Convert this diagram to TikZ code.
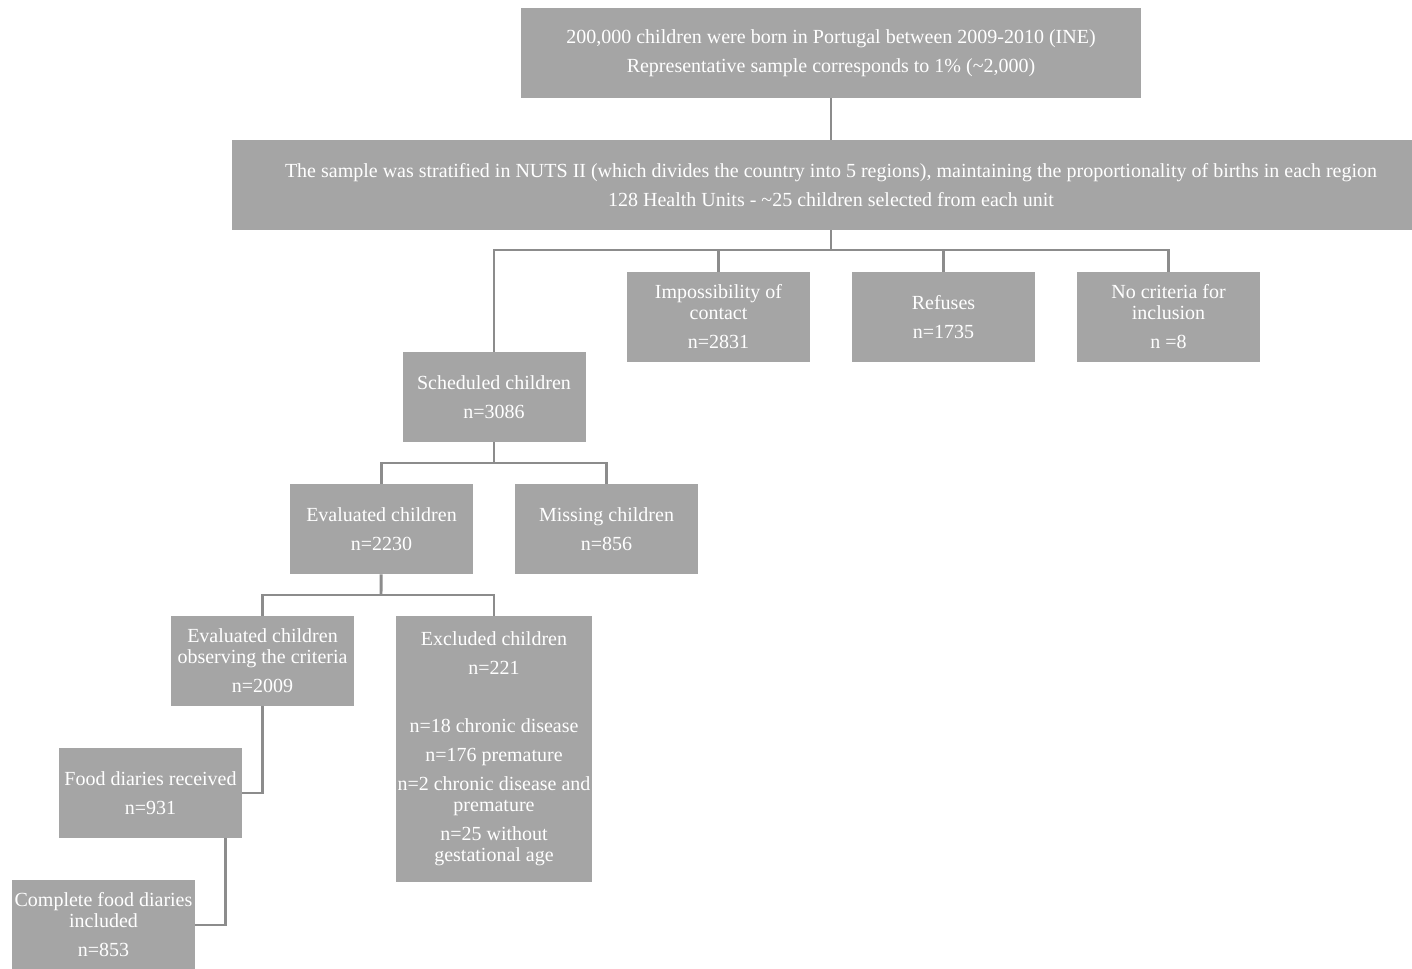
\documentclass[tikz,border=0pt]{standalone}
\usepackage{fontspec}
\setmainfont{Liberation Serif}
\definecolor{boxgray}{HTML}{A5A5A5}
\definecolor{linegray}{HTML}{8C8C8C}

\begin{document}
\begin{tikzpicture}[x=0.75pt, y=-0.75pt,
    box/.style={fill=boxgray, text=white, align=center, inner sep=0pt,
        minimum width=137.25pt, minimum height=67.5pt,
        font=\fontsize{15}{15.75}\selectfont},
    link/.style={draw=linegray, line width=2.2pt}]
    \clip (0,0) rectangle (1412,968);

    % population and sampling
    \node[box, minimum width=465pt] (born) at (831,53)
        {200,000 children were born in Portugal between 2009-2010 (INE)\\[6pt]
         Representative sample corresponds to 1\% (\textasciitilde 2,000)};
    \node[box, minimum width=898.5pt] (nuts) at (831,185)
        {The sample was stratified in NUTS II (which divides the country into 5 regions), maintaining the proportionality of births in each region\\[6pt]
         128 Health Units - \textasciitilde 25 children selected from each unit};

    % first split
    \node[box] (sched) at (494,397) {Scheduled children\\[6pt]n=3086};
    \node[box] (imposs) at (718.5,317) {Impossibility of\\contact\\[6pt]n=2831};
    \node[box] (refuse) at (943.5,317) {Refuses\\[6pt]n=1735};
    \node[box] (nocrit) at (1168.5,317) {No criteria for\\inclusion\\[6pt]n =8};

    % second split
    \node[box] (evald) at (381.5,529) {Evaluated children\\[6pt]n=2230};
    \node[box] (missing) at (606.5,529) {Missing children\\[6pt]n=856};

    % third split
    \node[box] (evcrit) at (262.5,661) {Evaluated children\\observing the criteria\\[6pt]n=2009};
    \node[box, minimum width=147pt, minimum height=199.5pt] (excl) at (494,749)
        {Excluded children\\[6pt]n=221\\[6pt]\mbox{}\\[6pt]
         n=18 chronic disease\\[6pt]n=176 premature\\[6pt]
         n=2 chronic disease and\\premature\\[6pt]
         n=25 without\\gestational age};

    % food diaries
    \node[box] (food) at (150.5,793) {Food diaries received\\[6pt]n=931};
    \node[box] (complete) at (103.5,925) {Complete food diaries\\included\\[6pt]n=853};

    \coordinate (bus1) at (831,250);
    \coordinate (bus2) at (494,463);
    \coordinate (bus3) at (381,595);

    \draw[link] (born) -- (nuts);
    \draw[link] (nuts) -- (bus1);
    \draw[link] (sched) |- (bus1) -| (nocrit);
    \draw[link] (bus1 -| imposs) -- (imposs);
    \draw[link] (bus1 -| refuse) -- (refuse);

    \draw[link] (sched) -- (bus2);
    \draw[link] (evald) |- (bus2) -| (missing);

    \draw[link] (evald) -- (bus3);
    \draw[link] (evcrit) |- (bus3) -| (excl);

    \draw[link] (evcrit) |- (food);
    \draw[link] ([xshift=-12.75pt]food.south east) |- (complete);
\end{tikzpicture}
\end{document}
